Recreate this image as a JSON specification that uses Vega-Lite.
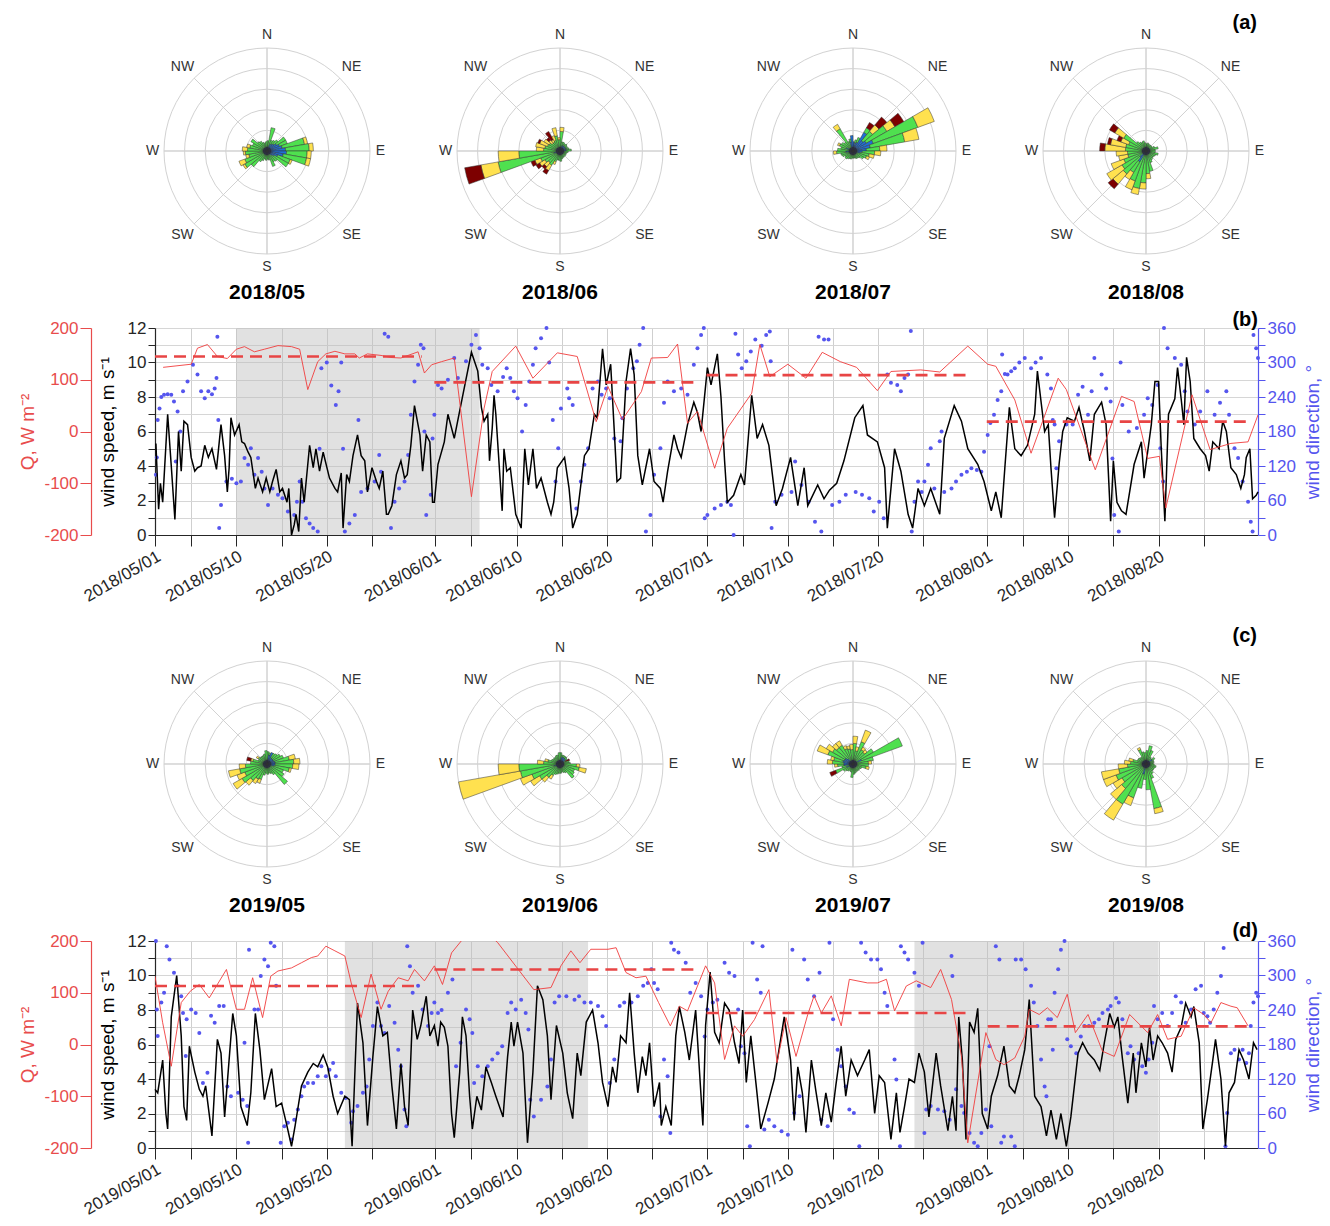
{
"$schema":"https://vega.github.io/schema/vega-lite/v6.json",
"padding":{"left":18,"top":12,"right":2,"bottom":2},
"background":"white",
"config":{"font":"Liberation Sans","view":{"stroke":null},
"axis":{"labelFont":"Liberation Sans","titleFont":"Liberation Sans","labelFontSize":17,"titleFontSize":19,"titleFontWeight":"normal","labelColor":"#262626","domainColor":"#262626","tickColor":"#262626","titleColor":"#000000","domainWidth":1.2},
"title":{"font":"Liberation Sans","color":"#000000"}},
"datasets":{
"rings":[{"r":2},{"r":4},{"r":6},{"r":8},{"r":10}],
"spokes":[{"a":0,"r":10},{"a":45,"r":10},{"a":90,"r":10},{"a":135,"r":10},{"a":180,"r":10},{"a":225,"r":10},{"a":270,"r":10},{"a":315,"r":10}],
"compass":[{"a":0,"r":11.3,"t":"N"},{"a":45,"r":11.6,"t":"NE"},{"a":90,"r":11.0,"t":"E"},{"a":135,"r":11.6,"t":"SE"},{"a":180,"r":11.3,"t":"S"},{"a":225,"r":11.6,"t":"SW"},{"a":270,"r":11.1,"t":"W"},{"a":315,"r":11.6,"t":"NW"}],
"rose":[
{"m":"1805","a":5,"c1":0.4,"c3":0.6},{"m":"1805","a":15,"c1":0.4,"c3":1.9},{"m":"1805","a":25,"c1":0.4,"c2":0.3,"c3":0.4},{"m":"1805","a":35,"c1":0.4,"c2":0.4,"c3":0.4},{"m":"1805","a":45,"c1":0.4,"c2":0.5,"c3":0.5},{"m":"1805","a":55,"c1":0.4,"c2":0.7,"c3":1.0},{"m":"1805","a":65,"c1":0.4,"c2":0.9,"c3":0.8},{"m":"1805","a":75,"c1":0.4,"c2":1.1,"c3":2.2,"c4":0.3},{"m":"1805","a":85,"c1":0.4,"c2":1.4,"c3":2.3,"c4":0.4},{"m":"1805","a":95,"c1":0.4,"c2":1.5,"c3":2.0,"c4":0.4},{"m":"1805","a":105,"c1":0.4,"c2":1.2,"c3":2.3,"c4":0.4},{"m":"1805","a":115,"c1":0.4,"c2":0.7,"c3":1.3,"c4":0.2},{"m":"1805","a":125,"c1":0.4,"c2":0.4,"c3":1.6},{"m":"1805","a":135,"c1":0.4,"c2":0.2,"c3":0.7},{"m":"1805","a":145,"c1":0.4,"c3":0.8},{"m":"1805","a":155,"c1":0.4,"c3":1.2},{"m":"1805","a":165,"c1":0.4,"c3":0.5},{"m":"1805","a":175,"c1":0.4,"c3":0.4},{"m":"1805","a":185,"c1":0.4,"c3":0.5},{"m":"1805","a":195,"c1":0.4,"c3":0.4},{"m":"1805","a":205,"c1":0.4,"c3":0.6},{"m":"1805","a":215,"c1":0.4,"c3":0.8},{"m":"1805","a":225,"c1":0.4,"c3":1.6},{"m":"1805","a":235,"c1":0.4,"c3":2.1,"c4":0.2},{"m":"1805","a":245,"c1":0.4,"c3":1.9,"c4":0.6},{"m":"1805","a":255,"c1":0.4,"c3":1.4,"c4":0.3},{"m":"1805","a":265,"c1":0.4,"c3":1.7,"c4":0.2},{"m":"1805","a":275,"c1":0.4,"c3":1.5,"c4":0.5},{"m":"1805","a":285,"c1":0.4,"c3":1.3,"c4":0.3},{"m":"1805","a":295,"c1":0.4,"c3":1.1},{"m":"1805","a":305,"c1":0.4,"c3":1.4},{"m":"1805","a":315,"c1":0.4,"c3":0.8},{"m":"1805","a":325,"c1":0.4,"c3":0.7},{"m":"1805","a":335,"c1":0.4,"c3":0.5},{"m":"1805","a":345,"c1":0.4,"c3":0.4},{"m":"1805","a":355,"c1":0.4,"c3":0.5},
{"m":"1806","a":5,"c1":0.4,"c3":1.5,"c4":0.4},{"m":"1806","a":15,"c1":0.4,"c3":0.5},{"m":"1806","a":25,"c1":0.4,"c2":0.2,"c3":0.3},{"m":"1806","a":35,"c1":0.4,"c2":0.2,"c3":0.2},{"m":"1806","a":45,"c1":0.4,"c2":0.2,"c3":0.3},{"m":"1806","a":55,"c1":0.4,"c2":0.2,"c3":0.2},{"m":"1806","a":65,"c1":0.4,"c2":0.2,"c3":0.2},{"m":"1806","a":75,"c1":0.4,"c2":0.2,"c3":0.3},{"m":"1806","a":85,"c1":0.4,"c2":0.2,"c3":0.5},{"m":"1806","a":95,"c1":0.4,"c3":0.4},{"m":"1806","a":105,"c1":0.4,"c3":0.3},{"m":"1806","a":115,"c1":0.4,"c3":0.2},{"m":"1806","a":125,"c1":0.4,"c3":0.3},{"m":"1806","a":135,"c1":0.4,"c3":0.2},{"m":"1806","a":145,"c1":0.4,"c3":0.3},{"m":"1806","a":155,"c1":0.4,"c3":0.3},{"m":"1806","a":165,"c1":0.4,"c3":0.4},{"m":"1806","a":175,"c1":0.4,"c3":0.6},{"m":"1806","a":185,"c1":0.4,"c3":0.5},{"m":"1806","a":195,"c1":0.4,"c3":0.5},{"m":"1806","a":205,"c1":0.4,"c3":0.7,"c4":0.3},{"m":"1806","a":215,"c1":0.4,"c3":1.2,"c4":0.6,"c5":0.4},{"m":"1806","a":225,"c1":0.4,"c3":1.1,"c4":0.5,"c5":0.3},{"m":"1806","a":235,"c1":0.4,"c3":1.3,"c4":0.6,"c5":0.4},{"m":"1806","a":245,"c1":0.4,"c3":1.6,"c4":0.6,"c5":0.4},{"m":"1806","a":255,"c1":0.4,"c2":0.2,"c3":5.5,"c4":1.7,"c5":1.6},{"m":"1806","a":265,"c1":0.4,"c3":3.6,"c4":2.0},{"m":"1806","a":275,"c1":0.4,"c3":1.2,"c4":0.7},{"m":"1806","a":285,"c1":0.4,"c3":1.1,"c4":0.9},{"m":"1806","a":295,"c1":0.4,"c3":0.9,"c4":0.8,"c5":0.2},{"m":"1806","a":305,"c1":0.4,"c3":0.8,"c4":0.6},{"m":"1806","a":315,"c1":0.4,"c3":0.6,"c4":0.4,"c5":0.3},{"m":"1806","a":325,"c1":0.4,"c3":0.6,"c4":0.3,"c5":0.9},{"m":"1806","a":335,"c1":0.4,"c3":0.7,"c4":0.5},{"m":"1806","a":345,"c1":0.4,"c3":1.1,"c4":0.8},{"m":"1806","a":355,"c1":0.4,"c3":0.7,"c4":0.2},
{"m":"1807","a":5,"c1":0.4,"c2":0.5},{"m":"1807","a":15,"c1":0.4,"c2":0.4,"c3":0.3},{"m":"1807","a":25,"c1":0.4,"c2":0.5,"c3":0.5},{"m":"1807","a":35,"c1":0.4,"c2":1.7,"c3":0.5,"c5":0.6},{"m":"1807","a":45,"c1":0.4,"c2":0.9,"c3":1.2,"c4":0.8,"c5":1.0},{"m":"1807","a":55,"c1":0.4,"c2":1.1,"c3":2.3,"c4":0.9,"c5":1.0},{"m":"1807","a":65,"c1":0.4,"c2":1.7,"c3":4.6,"c4":1.7},{"m":"1807","a":75,"c1":0.4,"c2":1.3,"c3":3.4,"c4":1.4},{"m":"1807","a":85,"c1":0.4,"c2":0.9,"c3":1.3,"c4":0.7},{"m":"1807","a":95,"c1":0.4,"c2":0.5,"c3":1.2,"c4":0.6},{"m":"1807","a":105,"c1":0.4,"c2":0.3,"c3":0.9,"c4":0.5},{"m":"1807","a":115,"c1":0.4,"c3":1.0,"c4":0.3},{"m":"1807","a":125,"c1":0.4,"c3":0.8},{"m":"1807","a":135,"c1":0.4,"c3":0.5},{"m":"1807","a":145,"c1":0.4,"c3":0.4},{"m":"1807","a":155,"c1":0.4,"c3":0.4},{"m":"1807","a":165,"c1":0.4,"c3":0.3},{"m":"1807","a":175,"c1":0.4,"c3":0.3},{"m":"1807","a":185,"c1":0.4,"c3":0.3},{"m":"1807","a":195,"c1":0.4,"c3":0.4},{"m":"1807","a":205,"c1":0.4,"c3":0.4},{"m":"1807","a":215,"c1":0.4,"c3":0.5},{"m":"1807","a":225,"c1":0.4,"c3":0.6},{"m":"1807","a":235,"c1":0.4,"c3":0.5},{"m":"1807","a":245,"c1":0.4,"c3":0.7},{"m":"1807","a":255,"c1":0.4,"c3":0.8},{"m":"1807","a":265,"c1":0.4,"c2":0.3,"c3":0.9,"c4":0.3},{"m":"1807","a":275,"c1":0.4,"c3":1.1},{"m":"1807","a":285,"c1":0.4,"c3":0.8},{"m":"1807","a":295,"c1":0.4,"c2":0.3,"c3":0.7,"c4":0.2},{"m":"1807","a":305,"c1":0.4,"c3":0.9},{"m":"1807","a":315,"c1":0.4,"c3":0.7},{"m":"1807","a":325,"c1":0.4,"c3":2.1,"c4":0.5},{"m":"1807","a":335,"c1":0.4,"c3":0.6},{"m":"1807","a":345,"c1":0.4,"c2":0.5,"c3":0.3},{"m":"1807","a":355,"c1":0.4,"c2":1.1},
{"m":"1808","a":5,"c1":0.4,"c3":0.3},{"m":"1808","a":15,"c1":0.4,"c3":0.4},{"m":"1808","a":25,"c1":0.4,"c3":0.3},{"m":"1808","a":35,"c1":0.4,"c3":0.3},{"m":"1808","a":45,"c1":0.4,"c3":0.3},{"m":"1808","a":55,"c1":0.4,"c3":0.3},{"m":"1808","a":65,"c1":0.4,"c3":0.5},{"m":"1808","a":75,"c1":0.4,"c3":0.8},{"m":"1808","a":85,"c1":0.4,"c3":0.5},{"m":"1808","a":95,"c1":0.4,"c3":0.5},{"m":"1808","a":105,"c1":0.4,"c3":0.8},{"m":"1808","a":115,"c1":0.4,"c3":0.6},{"m":"1808","a":125,"c1":0.4,"c3":0.5},{"m":"1808","a":135,"c1":0.4,"c3":0.5},{"m":"1808","a":145,"c1":0.4,"c3":0.6},{"m":"1808","a":155,"c1":0.4,"c3":0.8},{"m":"1808","a":165,"c1":0.4,"c3":1.6},{"m":"1808","a":175,"c1":0.4,"c3":1.8,"c4":0.5},{"m":"1808","a":185,"c1":0.4,"c3":2.7,"c4":0.6},{"m":"1808","a":195,"c1":0.4,"c3":3.3,"c4":0.6},{"m":"1808","a":205,"c1":0.4,"c3":2.7,"c4":0.9},{"m":"1808","a":215,"c1":0.4,"c2":0.8,"c3":1.2,"c4":0.8},{"m":"1808","a":225,"c1":0.4,"c2":0.4,"c3":2.1,"c4":1.3,"c5":0.6},{"m":"1808","a":235,"c1":0.4,"c3":2.3,"c4":1.7},{"m":"1808","a":245,"c1":0.4,"c3":1.9,"c4":1.3},{"m":"1808","a":255,"c1":0.4,"c3":1.4,"c4":0.9},{"m":"1808","a":265,"c1":0.4,"c3":1.4,"c4":1.1},{"m":"1808","a":275,"c1":0.4,"c3":1.6,"c4":2.0,"c5":0.5},{"m":"1808","a":285,"c1":0.4,"c3":1.6,"c4":1.5,"c5":0.3},{"m":"1808","a":295,"c1":0.4,"c3":1.4,"c4":0.8,"c5":0.4},{"m":"1808","a":305,"c1":0.4,"c3":2.1,"c4":1.0,"c5":0.6},{"m":"1808","a":315,"c1":0.4,"c3":0.8},{"m":"1808","a":325,"c1":0.4,"c3":0.6},{"m":"1808","a":335,"c1":0.4,"c3":0.5},{"m":"1808","a":345,"c1":0.4,"c3":0.6},{"m":"1808","a":355,"c1":0.4,"c3":0.4},
{"m":"1905","a":5,"c1":0.4,"c3":0.8},{"m":"1905","a":15,"c1":0.4,"c2":0.5,"c3":0.2},{"m":"1905","a":25,"c1":0.4,"c2":0.8},{"m":"1905","a":35,"c1":0.4,"c2":0.3,"c3":0.5},{"m":"1905","a":45,"c1":0.4,"c2":0.3,"c3":0.6},{"m":"1905","a":55,"c1":0.4,"c2":0.3,"c3":0.8},{"m":"1905","a":65,"c1":0.4,"c2":0.3,"c3":1.0},{"m":"1905","a":75,"c1":0.4,"c2":0.4,"c3":1.4,"c4":0.6},{"m":"1905","a":85,"c1":0.4,"c2":0.4,"c3":1.8,"c4":0.6},{"m":"1905","a":95,"c1":0.4,"c2":0.4,"c3":1.7,"c4":0.6},{"m":"1905","a":105,"c1":0.4,"c2":0.3,"c3":1.5,"c4":0.2},{"m":"1905","a":115,"c1":0.4,"c3":1.3},{"m":"1905","a":125,"c1":0.4,"c3":1.5},{"m":"1905","a":135,"c1":0.4,"c3":2.2},{"m":"1905","a":145,"c1":0.4,"c3":0.8},{"m":"1905","a":155,"c1":0.4,"c3":0.6},{"m":"1905","a":165,"c1":0.4,"c3":0.5},{"m":"1905","a":175,"c1":0.4,"c3":0.6},{"m":"1905","a":185,"c1":0.4,"c3":0.5},{"m":"1905","a":195,"c1":0.4,"c3":0.7},{"m":"1905","a":205,"c1":0.4,"c3":1.2,"c4":0.4},{"m":"1905","a":215,"c1":0.4,"c3":1.3,"c4":0.5},{"m":"1905","a":225,"c1":0.4,"c3":1.7,"c4":0.6},{"m":"1905","a":235,"c1":0.4,"c3":2.4,"c4":1.0},{"m":"1905","a":245,"c1":0.4,"c3":1.9,"c4":0.8},{"m":"1905","a":255,"c1":0.4,"c3":2.3,"c4":1.1},{"m":"1905","a":265,"c1":0.4,"c3":1.7,"c4":0.6},{"m":"1905","a":275,"c1":0.4,"c3":1.2},{"m":"1905","a":285,"c1":0.4,"c3":1.0,"c4":0.2,"c5":0.4},{"m":"1905","a":295,"c1":0.4,"c3":0.5},{"m":"1905","a":305,"c1":0.4,"c3":0.6,"c4":0.2},{"m":"1905","a":315,"c1":0.4,"c3":0.5},{"m":"1905","a":325,"c1":0.4,"c3":0.5},{"m":"1905","a":335,"c1":0.4,"c3":0.5},{"m":"1905","a":345,"c1":0.4,"c3":0.6},{"m":"1905","a":355,"c1":0.4,"c3":0.9},
{"m":"1906","a":5,"c1":0.4,"c3":0.7},{"m":"1906","a":15,"c1":0.4,"c2":0.3,"c3":0.2},{"m":"1906","a":25,"c1":0.4,"c2":0.3,"c3":0.2},{"m":"1906","a":35,"c1":0.4,"c2":0.3,"c3":0.2},{"m":"1906","a":45,"c1":0.4,"c2":0.3,"c3":0.2},{"m":"1906","a":55,"c1":0.4,"c2":0.2,"c3":0.2},{"m":"1906","a":65,"c1":0.4,"c3":0.2,"c5":0.4},{"m":"1906","a":75,"c1":0.4,"c3":0.5},{"m":"1906","a":85,"c1":0.4,"c3":0.6},{"m":"1906","a":95,"c1":0.4,"c3":1.2,"c4":0.3},{"m":"1906","a":105,"c1":0.4,"c3":1.5,"c4":0.7},{"m":"1906","a":115,"c1":0.4,"c3":1.1},{"m":"1906","a":125,"c1":0.4,"c3":1.2},{"m":"1906","a":135,"c1":0.4,"c3":1.4},{"m":"1906","a":145,"c1":0.4,"c3":0.6},{"m":"1906","a":155,"c1":0.4,"c3":0.5},{"m":"1906","a":165,"c1":0.4,"c3":0.4},{"m":"1906","a":175,"c1":0.4,"c3":0.5},{"m":"1906","a":185,"c1":0.4,"c3":0.5},{"m":"1906","a":195,"c1":0.4,"c3":0.6},{"m":"1906","a":205,"c1":0.4,"c3":0.7},{"m":"1906","a":215,"c1":0.4,"c3":0.9,"c4":0.4},{"m":"1906","a":225,"c1":0.4,"c3":1.3,"c4":0.6},{"m":"1906","a":235,"c1":0.4,"c3":1.9,"c4":1.0},{"m":"1906","a":245,"c1":0.4,"c3":2.5,"c4":1.2},{"m":"1906","a":255,"c1":0.4,"c2":0.2,"c3":3.3,"c4":6.1},{"m":"1906","a":265,"c1":0.4,"c3":3.6,"c4":2.0},{"m":"1906","a":275,"c1":0.4,"c3":1.2,"c4":0.6},{"m":"1906","a":285,"c1":0.4,"c3":0.8,"c4":0.3},{"m":"1906","a":295,"c1":0.4,"c3":0.5},{"m":"1906","a":305,"c1":0.4,"c3":0.4},{"m":"1906","a":315,"c1":0.4,"c3":0.4},{"m":"1906","a":325,"c1":0.4,"c3":0.4},{"m":"1906","a":335,"c1":0.4,"c3":0.5},{"m":"1906","a":345,"c1":0.4,"c3":0.5},{"m":"1906","a":355,"c1":0.4,"c3":0.7},
{"m":"1907","a":5,"c1":0.4,"c3":1.6,"c4":0.7},{"m":"1907","a":15,"c1":0.4,"c3":0.9,"c4":0.4},{"m":"1907","a":25,"c1":0.4,"c3":1.9,"c4":1.2},{"m":"1907","a":35,"c1":0.4,"c3":1.2,"c4":0.3},{"m":"1907","a":45,"c1":0.4,"c3":1.1,"c4":0.3},{"m":"1907","a":55,"c1":0.4,"c3":1.9},{"m":"1907","a":65,"c1":0.4,"c2":0.5,"c3":4.2},{"m":"1907","a":75,"c1":0.4,"c3":1.6},{"m":"1907","a":85,"c1":0.4,"c3":1.1,"c4":0.3},{"m":"1907","a":95,"c1":0.4,"c3":1.1},{"m":"1907","a":105,"c1":0.4,"c3":0.9,"c4":0.3},{"m":"1907","a":115,"c1":0.4,"c3":0.5},{"m":"1907","a":125,"c1":0.4,"c3":0.4},{"m":"1907","a":135,"c1":0.4,"c3":0.4},{"m":"1907","a":145,"c1":0.4,"c3":0.4},{"m":"1907","a":155,"c1":0.4,"c3":0.4},{"m":"1907","a":165,"c1":0.4,"c3":0.5},{"m":"1907","a":175,"c1":0.4,"c3":0.6},{"m":"1907","a":185,"c1":0.4,"c3":0.9},{"m":"1907","a":195,"c1":0.4,"c3":0.4},{"m":"1907","a":205,"c1":0.4,"c3":0.3},{"m":"1907","a":215,"c1":0.4,"c3":0.4},{"m":"1907","a":225,"c1":0.4,"c3":0.5},{"m":"1907","a":235,"c1":0.4,"c3":0.7},{"m":"1907","a":245,"c1":0.4,"c2":0.3,"c3":1.1,"c5":0.6},{"m":"1907","a":255,"c1":0.4,"c3":0.7},{"m":"1907","a":265,"c1":0.4,"c2":0.5,"c3":0.6,"c4":0.3},{"m":"1907","a":275,"c1":0.4,"c2":0.5,"c3":1.1,"c4":0.5},{"m":"1907","a":285,"c1":0.4,"c2":0.6,"c3":0.9,"c4":0.3},{"m":"1907","a":295,"c1":0.4,"c2":0.5,"c3":1.7,"c4":1.1},{"m":"1907","a":305,"c1":0.4,"c2":0.5,"c3":1.4,"c4":0.7},{"m":"1907","a":315,"c1":0.4,"c2":0.3,"c3":1.4,"c4":0.5},{"m":"1907","a":325,"c1":0.4,"c3":1.7,"c4":0.5},{"m":"1907","a":335,"c1":0.4,"c3":1.2,"c4":0.3},{"m":"1907","a":345,"c1":0.4,"c3":1.1,"c4":0.3},{"m":"1907","a":355,"c1":0.4,"c3":1.0,"c4":0.5},
{"m":"1908","a":5,"c1":0.4,"c3":0.9},{"m":"1908","a":15,"c1":0.4,"c3":1.4},{"m":"1908","a":25,"c1":0.4,"c3":1.0},{"m":"1908","a":35,"c1":0.4,"c3":0.4},{"m":"1908","a":45,"c1":0.4,"c3":0.3},{"m":"1908","a":55,"c1":0.4,"c2":0.3,"c3":0.3},{"m":"1908","a":65,"c1":0.4,"c3":0.4},{"m":"1908","a":75,"c1":0.4,"c3":0.4},{"m":"1908","a":85,"c1":0.4,"c3":0.3},{"m":"1908","a":95,"c1":0.4,"c3":0.4},{"m":"1908","a":105,"c1":0.4,"c3":0.6},{"m":"1908","a":115,"c1":0.4,"c3":0.5},{"m":"1908","a":125,"c1":0.4,"c3":0.5},{"m":"1908","a":135,"c1":0.4,"c3":0.5},{"m":"1908","a":145,"c1":0.4,"c3":0.7},{"m":"1908","a":155,"c1":0.4,"c3":1.1},{"m":"1908","a":165,"c1":0.4,"c3":4.0,"c4":0.5},{"m":"1908","a":175,"c1":0.4,"c3":2.1},{"m":"1908","a":185,"c1":0.4,"c3":1.1},{"m":"1908","a":195,"c1":0.4,"c2":0.6,"c3":1.4},{"m":"1908","a":205,"c1":0.4,"c3":3.1,"c4":0.8},{"m":"1908","a":215,"c1":0.4,"c3":4.1,"c4":1.8},{"m":"1908","a":225,"c1":0.4,"c3":2.7,"c4":1.4},{"m":"1908","a":235,"c1":0.4,"c3":2.3,"c4":1.0},{"m":"1908","a":245,"c1":0.4,"c3":2.7,"c4":1.3},{"m":"1908","a":255,"c1":0.4,"c3":2.3,"c4":1.7},{"m":"1908","a":265,"c1":0.4,"c3":1.4,"c4":0.9},{"m":"1908","a":275,"c1":0.4,"c3":1.1,"c4":0.6},{"m":"1908","a":285,"c1":0.4,"c3":0.9,"c4":0.4},{"m":"1908","a":295,"c1":0.4,"c3":0.5},{"m":"1908","a":305,"c1":0.4,"c3":0.5},{"m":"1908","a":315,"c1":0.4,"c3":0.4},{"m":"1908","a":325,"c1":0.4,"c3":0.4},{"m":"1908","a":335,"c1":0.4,"c3":1.1,"c4":0.2},{"m":"1908","a":345,"c1":0.4,"c3":0.8},{"m":"1908","a":355,"c1":0.4,"c3":0.7}
],
"g18":[{"x0":9,"x1":35.9}],
"m18":[{"x0":0,"x1":29.5,"q":145},{"x0":30.9,"x1":60,"q":95},{"x0":61,"x1":90,"q":109},{"x0":92,"x1":120.7,"q":19}],
"s18":[{"t":0.1,"s":5.3},{"t":0.4,"s":1.5},{"t":0.6,"s":3.0},{"t":0.85,"s":1.9},{"t":1.4,"s":7.0},{"t":1.8,"s":4.0},{"t":2.2,"s":0.9},{"t":2.6,"s":6.0},{"t":2.9,"s":3.7},{"t":3.2,"s":6.6},{"t":3.6,"s":6.4},{"t":4.0,"s":4.5},{"t":4.4,"s":3.7},{"t":4.7,"s":3.9},{"t":5.1,"s":4.0},{"t":5.5,"s":5.2},{"t":5.9,"s":4.5},{"t":6.3,"s":5.0},{"t":6.8,"s":3.8},{"t":7.3,"s":6.4},{"t":7.7,"s":4.6},{"t":8.0,"s":2.5},{"t":8.2,"s":3.9},{"t":8.4,"s":6.8},{"t":8.8,"s":5.8},{"t":9.3,"s":6.4},{"t":9.6,"s":5.4},{"t":9.9,"s":5.3},{"t":10.3,"s":4.8},{"t":10.6,"s":4.5},{"t":11.1,"s":2.7},{"t":11.4,"s":3.3},{"t":11.9,"s":2.5},{"t":12.3,"s":3.3},{"t":12.7,"s":2.5},{"t":13.0,"s":3.1},{"t":13.4,"s":3.8},{"t":13.8,"s":2.5},{"t":14.1,"s":2.7},{"t":14.6,"s":1.9},{"t":14.8,"s":2.7},{"t":15.1,"s":0.0},{"t":15.4,"s":0.6},{"t":15.6,"s":1.2},{"t":15.9,"s":0.2},{"t":16.2,"s":3.3},{"t":16.5,"s":1.9},{"t":17.1,"s":5.2},{"t":17.5,"s":3.9},{"t":17.8,"s":5.0},{"t":18.2,"s":3.7},{"t":18.6,"s":4.8},{"t":19.3,"s":3.3},{"t":19.9,"s":2.7},{"t":20.2,"s":2.5},{"t":20.6,"s":3.6},{"t":20.8,"s":0.4},{"t":21.2,"s":3.5},{"t":21.5,"s":3.1},{"t":21.9,"s":4.6},{"t":22.4,"s":5.8},{"t":22.8,"s":4.6},{"t":23.2,"s":4.3},{"t":23.5,"s":2.5},{"t":24.0,"s":3.9},{"t":24.5,"s":3.1},{"t":24.8,"s":2.7},{"t":25.2,"s":3.7},{"t":25.6,"s":1.2},{"t":25.8,"s":1.2},{"t":26.2,"s":1.7},{"t":26.7,"s":3.5},{"t":27.2,"s":4.3},{"t":27.6,"s":3.3},{"t":27.9,"s":3.5},{"t":28.3,"s":5.2},{"t":28.7,"s":7.5},{"t":29.3,"s":5.8},{"t":29.6,"s":3.7},{"t":30.0,"s":5.8},{"t":30.4,"s":5.4},{"t":30.7,"s":1.9},{"t":30.9,"s":1.9},{"t":31.3,"s":4.1},{"t":32.0,"s":5.4},{"t":32.4,"s":7.0},{"t":33.1,"s":5.6},{"t":33.7,"s":7.2},{"t":35.0,"s":10.6},{"t":35.7,"s":9.5},{"t":36.1,"s":7.4},{"t":36.4,"s":6.6},{"t":36.8,"s":7.0},{"t":37.0,"s":4.3},{"t":37.3,"s":6.2},{"t":37.5,"s":8.1},{"t":37.7,"s":7.0},{"t":38.4,"s":1.4},{"t":38.6,"s":5.0},{"t":38.9,"s":3.7},{"t":39.3,"s":3.9},{"t":39.9,"s":1.2},{"t":40.5,"s":0.4},{"t":40.9,"s":5.0},{"t":41.3,"s":2.9},{"t":41.8,"s":5.0},{"t":42.2,"s":2.7},{"t":42.7,"s":3.3},{"t":43.4,"s":1.9},{"t":43.8,"s":1.2},{"t":44.1,"s":1.9},{"t":44.5,"s":3.9},{"t":45.3,"s":4.5},{"t":45.8,"s":2.7},{"t":46.2,"s":0.4},{"t":46.7,"s":1.2},{"t":47.5,"s":4.6},{"t":48.0,"s":5.0},{"t":48.6,"s":7.0},{"t":48.9,"s":6.8},{"t":49.5,"s":10.8},{"t":49.9,"s":8.7},{"t":50.4,"s":9.9},{"t":51.1,"s":3.1},{"t":51.5,"s":3.3},{"t":52.1,"s":8.9},{"t":52.6,"s":10.8},{"t":53.0,"s":9.3},{"t":53.4,"s":4.6},{"t":53.9,"s":2.9},{"t":54.7,"s":5.0},{"t":55.2,"s":3.1},{"t":55.9,"s":2.7},{"t":56.2,"s":1.9},{"t":56.7,"s":3.7},{"t":57.4,"s":5.8},{"t":57.8,"s":5.0},{"t":58.2,"s":4.5},{"t":58.9,"s":6.4},{"t":59.6,"s":7.7},{"t":60.0,"s":7.1},{"t":60.4,"s":6.0},{"t":61.1,"s":9.7},{"t":61.5,"s":8.7},{"t":62.2,"s":10.5},{"t":62.6,"s":8.0},{"t":63.0,"s":4.3},{"t":63.3,"s":1.9},{"t":64.0,"s":2.3},{"t":64.8,"s":3.5},{"t":65.2,"s":2.9},{"t":66.0,"s":8.1},{"t":66.6,"s":5.6},{"t":67.2,"s":6.4},{"t":67.9,"s":5.2},{"t":68.7,"s":1.7},{"t":69.4,"s":2.7},{"t":70.3,"s":4.5},{"t":71.1,"s":1.7},{"t":71.8,"s":3.9},{"t":72.2,"s":1.7},{"t":73.3,"s":2.9},{"t":74.0,"s":2.1},{"t":74.6,"s":2.6},{"t":75.4,"s":3.0},{"t":76.2,"s":4.3},{"t":77.4,"s":6.8},{"t":78.3,"s":7.5},{"t":78.8,"s":5.8},{"t":79.9,"s":5.4},{"t":80.7,"s":3.9},{"t":81.0,"s":0.4},{"t":81.8,"s":5.0},{"t":82.5,"s":3.7},{"t":83.3,"s":1.2},{"t":83.8,"s":0.4},{"t":84.4,"s":2.7},{"t":85.1,"s":1.7},{"t":85.8,"s":2.7},{"t":86.8,"s":1.2},{"t":87.3,"s":5.6},{"t":88.4,"s":7.5},{"t":89.2,"s":6.6},{"t":89.9,"s":5.0},{"t":91.0,"s":4.1},{"t":91.7,"s":3.1},{"t":92.5,"s":1.4},{"t":93.0,"s":2.5},{"t":93.6,"s":1.0},{"t":94.0,"s":3.9},{"t":94.5,"s":7.4},{"t":95.1,"s":5.0},{"t":95.8,"s":4.6},{"t":96.5,"s":5.2},{"t":97.3,"s":7.0},{"t":97.6,"s":9.5},{"t":98.4,"s":6.0},{"t":98.8,"s":6.4},{"t":99.1,"s":3.9},{"t":99.5,"s":1.0},{"t":100.0,"s":4.1},{"t":100.4,"s":6.0},{"t":100.9,"s":6.8},{"t":101.7,"s":6.6},{"t":102.2,"s":7.4},{"t":102.8,"s":6.0},{"t":103.4,"s":4.3},{"t":103.9,"s":7.0},{"t":104.7,"s":7.7},{"t":105.2,"s":6.4},{"t":105.7,"s":0.8},{"t":106.0,"s":4.3},{"t":106.4,"s":1.9},{"t":106.9,"s":1.4},{"t":107.4,"s":1.2},{"t":108.3,"s":4.1},{"t":109.1,"s":5.4},{"t":109.4,"s":3.3},{"t":110.2,"s":6.4},{"t":110.6,"s":8.9},{"t":111.0,"s":8.9},{"t":111.3,"s":5.0},{"t":111.7,"s":0.8},{"t":112.1,"s":7.0},{"t":112.8,"s":7.9},{"t":113.1,"s":9.7},{"t":113.5,"s":7.9},{"t":113.8,"s":6.4},{"t":114.1,"s":10.3},{"t":114.5,"s":8.9},{"t":114.9,"s":5.6},{"t":115.6,"s":5.0},{"t":116.2,"s":4.6},{"t":116.6,"s":3.7},{"t":117.0,"s":5.4},{"t":117.7,"s":5.0},{"t":118.1,"s":6.6},{"t":118.5,"s":6.0},{"t":119.0,"s":3.9},{"t":119.6,"s":3.5},{"t":120.1,"s":2.7},{"t":120.5,"s":3.5},{"t":120.7,"s":4.5},{"t":121.1,"s":5.0},{"t":121.4,"s":2.1},{"t":121.8,"s":2.3},{"t":122.0,"s":2.5}],
"d18":[{"t":0.1,"d":105},{"t":0.2,"d":135},{"t":0.3,"d":200},{"t":0.5,"d":220},{"t":0.7,"d":240},{"t":1.0,"d":244},{"t":1.4,"d":245},{"t":1.8,"d":244},{"t":2.1,"d":232},{"t":2.3,"d":128},{"t":2.5,"d":215},{"t":2.8,"d":180},{"t":3.1,"d":250},{"t":3.6,"d":267},{"t":4.2,"d":296},{"t":4.7,"d":279},{"t":5.1,"d":250},{"t":5.5,"d":238},{"t":5.9,"d":250},{"t":6.3,"d":245},{"t":6.6,"d":255},{"t":6.8,"d":273},{"t":6.9,"d":345},{"t":7.0,"d":200},{"t":7.1,"d":12},{"t":7.3,"d":52},{"t":7.9,"d":93},{"t":8.5,"d":98},{"t":9.0,"d":90},{"t":9.5,"d":93},{"t":9.9,"d":134},{"t":10.3,"d":122},{"t":10.6,"d":151},{"t":11.0,"d":105},{"t":11.4,"d":134},{"t":11.8,"d":110},{"t":12.1,"d":81},{"t":12.5,"d":52},{"t":13.0,"d":81},{"t":13.6,"d":70},{"t":14.1,"d":64},{"t":14.7,"d":41},{"t":15.4,"d":35},{"t":15.7,"d":58},{"t":16.0,"d":93},{"t":16.3,"d":58},{"t":16.7,"d":29},{"t":17.1,"d":20},{"t":17.5,"d":12},{"t":18.0,"d":6},{"t":18.2,"d":150},{"t":18.4,"d":290},{"t":19.0,"d":300},{"t":19.5,"d":260},{"t":20.0,"d":226},{"t":20.3,"d":250},{"t":20.6,"d":300},{"t":20.8,"d":150},{"t":21.0,"d":6},{"t":21.5,"d":20},{"t":22.1,"d":35},{"t":22.5,"d":200},{"t":22.8,"d":75},{"t":23.5,"d":81},{"t":24.3,"d":93},{"t":24.8,"d":139},{"t":25.0,"d":110},{"t":25.4,"d":350},{"t":25.8,"d":345},{"t":26.1,"d":12},{"t":26.5,"d":58},{"t":27.0,"d":81},{"t":27.6,"d":93},{"t":28.0,"d":139},{"t":28.3,"d":209},{"t":28.7,"d":267},{"t":29.1,"d":296},{"t":29.4,"d":331},{"t":29.7,"d":325},{"t":29.8,"d":180},{"t":30.0,"d":35},{"t":30.5,"d":70},{"t":30.7,"d":168},{"t":30.9,"d":209},{"t":31.3,"d":261},{"t":31.7,"d":255},{"t":32.4,"d":270},{"t":33.1,"d":308},{"t":33.5,"d":273},{"t":34.4,"d":302},{"t":35.0,"d":331},{"t":35.5,"d":348},{"t":35.9,"d":325},{"t":36.2,"d":296},{"t":36.8,"d":290},{"t":37.2,"d":261},{"t":37.9,"d":250},{"t":38.5,"d":275},{"t":38.9,"d":290},{"t":39.3,"d":273},{"t":39.7,"d":250},{"t":40.1,"d":238},{"t":40.6,"d":180},{"t":41.0,"d":226},{"t":41.4,"d":267},{"t":41.8,"d":296},{"t":42.1,"d":325},{"t":42.7,"d":342},{"t":43.3,"d":360},{"t":43.6,"d":300},{"t":44.0,"d":200},{"t":44.3,"d":93},{"t":44.6,"d":151},{"t":44.9,"d":220},{"t":45.6,"d":255},{"t":45.8,"d":238},{"t":46.2,"d":226},{"t":46.6,"d":46},{"t":47.1,"d":93},{"t":47.5,"d":122},{"t":47.9,"d":151},{"t":48.4,"d":255},{"t":49.0,"d":267},{"t":49.4,"d":244},{"t":49.9,"d":255},{"t":50.3,"d":238},{"t":50.8,"d":168},{"t":51.5,"d":163},{"t":51.7,"d":203},{"t":52.2,"d":255},{"t":52.9,"d":290},{"t":53.3,"d":302},{"t":53.6,"d":331},{"t":54.0,"d":360},{"t":54.3,"d":6},{"t":54.8,"d":35},{"t":55.2,"d":105},{"t":55.9,"d":151},{"t":56.3,"d":230},{"t":56.7,"d":267},{"t":57.4,"d":250},{"t":58.2,"d":255},{"t":58.9,"d":244},{"t":59.6,"d":296},{"t":60.0,"d":325},{"t":60.4,"d":348},{"t":60.7,"d":360},{"t":60.8,"d":29},{"t":61.1,"d":35},{"t":61.9,"d":46},{"t":62.6,"d":52},{"t":63.3,"d":58},{"t":63.7,"d":52},{"t":64.0,"d":0},{"t":64.2,"d":350},{"t":64.5,"d":314},{"t":64.9,"d":290},{"t":65.4,"d":302},{"t":65.9,"d":319},{"t":66.4,"d":340},{"t":67.1,"d":329},{"t":67.6,"d":348},{"t":68.0,"d":354},{"t":68.1,"d":302},{"t":68.2,"d":12},{"t":68.6,"d":58},{"t":69.3,"d":70},{"t":70.4,"d":75},{"t":70.8,"d":128},{"t":71.5,"d":87},{"t":72.3,"d":58},{"t":73.0,"d":23},{"t":73.4,"d":345},{"t":73.7,"d":6},{"t":74.0,"d":340},{"t":74.5,"d":340},{"t":74.9,"d":52},{"t":75.7,"d":58},{"t":76.4,"d":70},{"t":77.5,"d":75},{"t":78.2,"d":70},{"t":79.0,"d":64},{"t":79.5,"d":41},{"t":80.1,"d":58},{"t":80.6,"d":29},{"t":81.0,"d":279},{"t":81.4,"d":265},{"t":82.1,"d":261},{"t":82.5,"d":250},{"t":82.9,"d":273},{"t":83.3,"d":279},{"t":83.6,"d":355},{"t":83.7,"d":6},{"t":84.0,"d":58},{"t":84.4,"d":93},{"t":84.8,"d":75},{"t":85.1,"d":93},{"t":85.5,"d":122},{"t":85.8,"d":151},{"t":86.2,"d":81},{"t":86.8,"d":163},{"t":87.0,"d":180},{"t":87.3,"d":75},{"t":88.1,"d":81},{"t":88.6,"d":93},{"t":89.2,"d":105},{"t":89.8,"d":110},{"t":90.3,"d":116},{"t":90.9,"d":113},{"t":91.4,"d":110},{"t":91.7,"d":145},{"t":92.1,"d":174},{"t":92.4,"d":195},{"t":92.8,"d":209},{"t":93.2,"d":235},{"t":93.6,"d":250},{"t":93.7,"d":314},{"t":94.0,"d":280},{"t":94.3,"d":279},{"t":94.7,"d":285},{"t":95.1,"d":290},{"t":95.6,"d":300},{"t":96.2,"d":308},{"t":96.9,"d":290},{"t":97.4,"d":300},{"t":98.0,"d":308},{"t":98.7,"d":279},{"t":99.1,"d":255},{"t":99.3,"d":200},{"t":99.5,"d":192},{"t":99.7,"d":116},{"t":100.0,"d":163},{"t":100.8,"d":192},{"t":101.5,"d":192},{"t":102.1,"d":244},{"t":102.6,"d":258},{"t":103.2,"d":209},{"t":103.6,"d":250},{"t":103.9,"d":308},{"t":104.7,"d":279},{"t":105.2,"d":255},{"t":105.7,"d":232},{"t":105.9,"d":133},{"t":106.1,"d":35},{"t":106.6,"d":6},{"t":106.8,"d":300},{"t":107.0,"d":226},{"t":107.7,"d":180},{"t":108.6,"d":186},{"t":109.4,"d":209},{"t":109.8,"d":238},{"t":110.3,"d":226},{"t":110.9,"d":261},{"t":111.2,"d":151},{"t":111.5,"d":93},{"t":111.6,"d":360},{"t":112.0,"d":325},{"t":112.8,"d":308},{"t":113.5,"d":296},{"t":113.9,"d":250},{"t":114.2,"d":215},{"t":115.0,"d":192},{"t":115.6,"d":215},{"t":116.4,"d":250},{"t":117.2,"d":209},{"t":117.8,"d":230},{"t":118.5,"d":250},{"t":118.8,"d":209},{"t":119.4,"d":151},{"t":119.8,"d":134},{"t":120.3,"d":93},{"t":120.9,"d":58},{"t":121.2,"d":23},{"t":121.4,"d":6},{"t":121.5,"d":348},{"t":121.8,"d":325},{"t":122.0,"d":308}],
"q18":[{"t":0.9,"q":124},{"t":4.0,"q":130},{"t":4.7,"q":161},{"t":5.8,"q":168},{"t":6.9,"q":145},{"t":8.0,"q":141},{"t":9.0,"q":159},{"t":9.9,"q":164},{"t":11.0,"q":154},{"t":12.1,"q":159},{"t":13.6,"q":166},{"t":15.1,"q":164},{"t":16.0,"q":159},{"t":16.9,"q":81},{"t":18.0,"q":135},{"t":18.9,"q":150},{"t":19.9,"q":155},{"t":21.0,"q":150},{"t":22.1,"q":150},{"t":22.6,"q":142},{"t":23.5,"q":150},{"t":25.0,"q":147},{"t":26.1,"q":143},{"t":27.2,"q":142},{"t":29.1,"q":154},{"t":29.8,"q":113},{"t":30.6,"q":129},{"t":31.7,"q":135},{"t":33.1,"q":142},{"t":35.0,"q":-126},{"t":36.4,"q":45},{"t":37.3,"q":116},{"t":39.9,"q":165},{"t":41.8,"q":103},{"t":44.5,"q":152},{"t":46.7,"q":145},{"t":48.8,"q":19},{"t":50.1,"q":87},{"t":51.7,"q":23},{"t":53.8,"q":77},{"t":54.9,"q":142},{"t":56.7,"q":143},{"t":57.8,"q":169},{"t":58.9,"q":16},{"t":60.0,"q":39},{"t":61.9,"q":-71},{"t":63.3,"q":6},{"t":66.0,"q":74},{"t":66.9,"q":168},{"t":68.0,"q":106},{"t":70.0,"q":130},{"t":72.0,"q":103},{"t":73.8,"q":153},{"t":75.8,"q":135},{"t":77.6,"q":124},{"t":79.9,"q":79},{"t":81.4,"q":116},{"t":82.5,"q":117},{"t":84.7,"q":119},{"t":86.8,"q":115},{"t":89.9,"q":165},{"t":92.1,"q":130},{"t":93.0,"q":126},{"t":95.1,"q":61},{"t":96.9,"q":-42},{"t":99.9,"q":103},{"t":100.8,"q":81},{"t":104.0,"q":-74},{"t":106.9,"q":68},{"t":108.3,"q":58},{"t":109.8,"q":-52},{"t":111.1,"q":-48},{"t":111.8,"q":-148},{"t":114.7,"q":71},{"t":116.7,"q":-35},{"t":119.0,"q":-23},{"t":120.9,"q":-20},{"t":122.0,"q":32}],
"g19":[{"x0":21.0,"x1":47.9},{"x0":84.0,"x1":111.0}],
"m19":[{"x0":0,"x1":29.2,"q":113},{"x0":30.9,"x1":59.8,"q":145},{"x0":61,"x1":90.1,"q":61},{"x0":92.1,"x1":120.9,"q":35}],
"s19":[{"t":0.0,"s":3.4},{"t":0.3,"s":3.2},{"t":0.85,"s":5.1},{"t":1.2,"s":2.0},{"t":1.4,"s":1.1},{"t":1.8,"s":7.6},{"t":2.4,"s":10.0},{"t":2.9,"s":6.5},{"t":3.2,"s":2.4},{"t":3.5,"s":1.6},{"t":3.8,"s":5.9},{"t":4.4,"s":4.4},{"t":4.9,"s":3.4},{"t":5.3,"s":3.0},{"t":5.6,"s":3.6},{"t":6.3,"s":0.7},{"t":6.9,"s":6.3},{"t":7.3,"s":5.5},{"t":7.7,"s":1.8},{"t":8.6,"s":7.8},{"t":9.0,"s":6.5},{"t":9.5,"s":2.4},{"t":10.2,"s":1.3},{"t":10.6,"s":3.2},{"t":11.1,"s":7.8},{"t":11.6,"s":5.7},{"t":12.1,"s":2.8},{"t":12.9,"s":4.6},{"t":13.4,"s":2.4},{"t":14.0,"s":2.6},{"t":14.5,"s":1.5},{"t":15.1,"s":0.1},{"t":15.5,"s":1.3},{"t":16.2,"s":3.6},{"t":16.9,"s":4.4},{"t":17.5,"s":4.9},{"t":18.0,"s":4.7},{"t":18.6,"s":5.4},{"t":19.1,"s":4.7},{"t":19.7,"s":3.0},{"t":20.2,"s":2.0},{"t":21.0,"s":3.0},{"t":21.5,"s":2.8},{"t":21.8,"s":0.1},{"t":22.4,"s":8.4},{"t":23.0,"s":6.1},{"t":23.5,"s":1.3},{"t":24.1,"s":5.3},{"t":24.6,"s":8.2},{"t":25.2,"s":6.5},{"t":25.7,"s":6.7},{"t":26.2,"s":3.6},{"t":26.7,"s":1.1},{"t":27.2,"s":4.9},{"t":27.6,"s":2.4},{"t":28.0,"s":1.3},{"t":28.5,"s":8.0},{"t":29.0,"s":6.3},{"t":29.4,"s":7.1},{"t":30.0,"s":8.8},{"t":30.4,"s":6.5},{"t":30.9,"s":7.1},{"t":31.3,"s":5.9},{"t":31.6,"s":7.3},{"t":32.0,"s":7.0},{"t":32.4,"s":5.9},{"t":32.8,"s":2.0},{"t":33.1,"s":0.6},{"t":33.7,"s":4.4},{"t":34.0,"s":7.6},{"t":34.4,"s":6.5},{"t":34.8,"s":3.0},{"t":35.1,"s":1.1},{"t":35.6,"s":3.0},{"t":36.1,"s":2.2},{"t":36.6,"s":4.7},{"t":37.2,"s":3.8},{"t":37.7,"s":3.0},{"t":38.5,"s":1.8},{"t":39.0,"s":5.3},{"t":39.4,"s":7.3},{"t":39.7,"s":5.9},{"t":40.1,"s":7.3},{"t":40.7,"s":5.5},{"t":41.2,"s":0.3},{"t":41.8,"s":4.4},{"t":42.3,"s":9.4},{"t":42.9,"s":8.6},{"t":43.4,"s":6.5},{"t":43.8,"s":2.8},{"t":44.4,"s":7.1},{"t":45.1,"s":5.5},{"t":45.6,"s":3.2},{"t":46.2,"s":1.7},{"t":46.7,"s":5.5},{"t":47.1,"s":4.2},{"t":47.7,"s":7.3},{"t":48.4,"s":8.0},{"t":49.0,"s":6.1},{"t":49.5,"s":3.8},{"t":50.1,"s":2.4},{"t":50.6,"s":4.7},{"t":51.0,"s":3.8},{"t":51.5,"s":6.5},{"t":52.1,"s":6.1},{"t":52.5,"s":9.0},{"t":53.0,"s":5.5},{"t":53.4,"s":3.2},{"t":53.9,"s":5.3},{"t":54.3,"s":4.2},{"t":54.7,"s":6.1},{"t":55.2,"s":2.4},{"t":55.8,"s":3.8},{"t":56.0,"s":1.3},{"t":56.5,"s":2.4},{"t":57.1,"s":1.3},{"t":57.6,"s":6.5},{"t":58.0,"s":8.2},{"t":58.6,"s":6.7},{"t":59.1,"s":5.1},{"t":59.8,"s":8.0},{"t":60.6,"s":1.3},{"t":60.9,"s":7.1},{"t":61.4,"s":10.2},{"t":61.9,"s":6.7},{"t":62.4,"s":6.1},{"t":63.0,"s":8.4},{"t":63.5,"s":8.0},{"t":64.1,"s":6.1},{"t":64.6,"s":4.9},{"t":65.0,"s":8.0},{"t":65.4,"s":3.8},{"t":65.9,"s":6.5},{"t":66.5,"s":3.6},{"t":67.0,"s":1.1},{"t":67.8,"s":2.6},{"t":68.5,"s":4.0},{"t":69.6,"s":7.6},{"t":70.3,"s":5.1},{"t":70.7,"s":1.6},{"t":71.1,"s":4.7},{"t":71.6,"s":3.2},{"t":72.0,"s":0.9},{"t":72.6,"s":5.1},{"t":73.1,"s":3.3},{"t":73.7,"s":1.3},{"t":74.2,"s":3.2},{"t":74.8,"s":1.5},{"t":75.3,"s":3.6},{"t":75.9,"s":5.9},{"t":76.4,"s":3.0},{"t":77.0,"s":5.1},{"t":77.7,"s":4.2},{"t":78.5,"s":5.1},{"t":79.0,"s":5.7},{"t":79.6,"s":2.0},{"t":80.1,"s":4.2},{"t":80.7,"s":3.8},{"t":81.4,"s":0.5},{"t":82.0,"s":3.2},{"t":82.4,"s":0.9},{"t":82.9,"s":2.4},{"t":83.4,"s":4.0},{"t":84.0,"s":3.8},{"t":84.5,"s":5.5},{"t":85.1,"s":4.4},{"t":85.6,"s":1.8},{"t":86.4,"s":5.5},{"t":86.9,"s":3.6},{"t":87.7,"s":1.0},{"t":88.2,"s":3.0},{"t":88.6,"s":1.0},{"t":88.9,"s":7.6},{"t":89.3,"s":5.1},{"t":89.7,"s":0.5},{"t":90.1,"s":7.3},{"t":90.6,"s":6.7},{"t":91.0,"s":8.1},{"t":91.5,"s":2.0},{"t":92.1,"s":1.1},{"t":92.5,"s":3.0},{"t":93.2,"s":4.2},{"t":93.9,"s":5.9},{"t":94.5,"s":3.6},{"t":95.1,"s":3.2},{"t":95.6,"s":4.2},{"t":96.2,"s":5.7},{"t":96.7,"s":8.6},{"t":97.3,"s":3.0},{"t":98.0,"s":2.4},{"t":98.6,"s":0.7},{"t":99.1,"s":2.2},{"t":99.7,"s":0.5},{"t":100.2,"s":2.0},{"t":100.8,"s":0.1},{"t":101.3,"s":1.8},{"t":102.1,"s":5.5},{"t":102.6,"s":6.1},{"t":103.2,"s":5.5},{"t":103.9,"s":5.1},{"t":104.5,"s":4.5},{"t":105.0,"s":6.1},{"t":105.6,"s":7.8},{"t":106.1,"s":7.0},{"t":106.5,"s":7.6},{"t":107.0,"s":5.2},{"t":107.6,"s":2.6},{"t":108.2,"s":5.5},{"t":108.5,"s":3.2},{"t":109.1,"s":6.1},{"t":109.6,"s":4.7},{"t":110.0,"s":7.0},{"t":110.4,"s":5.1},{"t":110.9,"s":6.5},{"t":111.4,"s":6.1},{"t":112.0,"s":5.5},{"t":112.5,"s":4.4},{"t":112.9,"s":6.3},{"t":113.5,"s":7.0},{"t":114.0,"s":8.4},{"t":114.6,"s":7.6},{"t":114.9,"s":8.2},{"t":115.5,"s":6.1},{"t":115.9,"s":1.1},{"t":116.4,"s":2.8},{"t":117.0,"s":5.1},{"t":117.3,"s":6.3},{"t":117.9,"s":4.0},{"t":118.4,"s":0.1},{"t":118.8,"s":3.2},{"t":119.4,"s":3.8},{"t":119.9,"s":5.7},{"t":120.4,"s":5.1},{"t":121.0,"s":4.0},{"t":121.5,"s":6.1},{"t":121.9,"s":5.7}],
"d19":[{"t":0.1,"d":360},{"t":0.2,"d":241},{"t":0.3,"d":195},{"t":0.7,"d":253},{"t":1.0,"d":270},{"t":1.3,"d":351},{"t":1.6,"d":328},{"t":2.1,"d":305},{"t":2.5,"d":282},{"t":2.9,"d":264},{"t":3.1,"d":235},{"t":3.4,"d":160},{"t":3.5,"d":224},{"t":4.0,"d":241},{"t":4.5,"d":235},{"t":4.9,"d":200},{"t":5.3,"d":113},{"t":5.8,"d":131},{"t":6.2,"d":230},{"t":6.6,"d":218},{"t":7.1,"d":247},{"t":7.6,"d":247},{"t":8.0,"d":107},{"t":8.4,"d":90},{"t":9.2,"d":96},{"t":9.7,"d":84},{"t":9.9,"d":183},{"t":10.2,"d":73},{"t":10.3,"d":9},{"t":10.4,"d":345},{"t":11.0,"d":241},{"t":11.4,"d":241},{"t":11.7,"d":299},{"t":12.1,"d":328},{"t":12.5,"d":316},{"t":12.8,"d":357},{"t":13.2,"d":351},{"t":13.4,"d":282},{"t":13.9,"d":9},{"t":14.3,"d":38},{"t":14.7,"d":44},{"t":15.1,"d":15},{"t":15.4,"d":49},{"t":15.8,"d":67},{"t":16.2,"d":90},{"t":16.5,"d":107},{"t":16.9,"d":113},{"t":17.5,"d":113},{"t":18.0,"d":125},{"t":18.4,"d":142},{"t":18.9,"d":125},{"t":19.3,"d":136},{"t":19.7,"d":148},{"t":20.0,"d":125},{"t":20.6,"d":96},{"t":21.1,"d":87},{"t":21.7,"d":44},{"t":21.9,"d":64},{"t":22.4,"d":73},{"t":23.0,"d":96},{"t":23.4,"d":107},{"t":23.7,"d":154},{"t":24.1,"d":212},{"t":24.6,"d":253},{"t":25.0,"d":212},{"t":25.4,"d":200},{"t":25.9,"d":247},{"t":26.5,"d":218},{"t":26.9,"d":171},{"t":27.2,"d":142},{"t":27.6,"d":67},{"t":27.8,"d":38},{"t":27.9,"d":351},{"t":28.2,"d":316},{"t":28.5,"d":270},{"t":29.1,"d":282},{"t":29.6,"d":241},{"t":30.2,"d":212},{"t":30.6,"d":235},{"t":30.9,"d":253},{"t":31.3,"d":235},{"t":31.7,"d":240},{"t":32.4,"d":270},{"t":32.9,"d":293},{"t":33.3,"d":142},{"t":33.8,"d":183},{"t":34.4,"d":241},{"t":34.8,"d":224},{"t":35.1,"d":200},{"t":35.3,"d":113},{"t":35.7,"d":142},{"t":36.2,"d":125},{"t":36.8,"d":142},{"t":37.3,"d":154},{"t":37.9,"d":165},{"t":38.4,"d":177},{"t":39.0,"d":235},{"t":39.4,"d":253},{"t":39.9,"d":241},{"t":40.5,"d":258},{"t":41.0,"d":235},{"t":41.3,"d":206},{"t":41.5,"d":84},{"t":41.9,"d":55},{"t":42.7,"d":84},{"t":43.4,"d":107},{"t":43.8,"d":154},{"t":44.2,"d":253},{"t":44.7,"d":264},{"t":45.5,"d":264},{"t":46.4,"d":258},{"t":46.9,"d":264},{"t":47.5,"d":253},{"t":48.2,"d":253},{"t":49.0,"d":247},{"t":49.5,"d":229},{"t":49.9,"d":212},{"t":50.3,"d":113},{"t":50.8,"d":154},{"t":51.4,"d":247},{"t":51.9,"d":253},{"t":52.7,"d":253},{"t":53.4,"d":264},{"t":54.0,"d":282},{"t":54.5,"d":287},{"t":54.9,"d":311},{"t":55.2,"d":287},{"t":55.6,"d":276},{"t":55.9,"d":55},{"t":56.3,"d":154},{"t":56.7,"d":125},{"t":57.0,"d":26},{"t":57.1,"d":357},{"t":57.4,"d":345},{"t":57.9,"d":340},{"t":58.7,"d":322},{"t":59.2,"d":270},{"t":59.8,"d":287},{"t":60.4,"d":264},{"t":60.8,"d":194},{"t":61.1,"d":241},{"t":61.7,"d":253},{"t":62.2,"d":258},{"t":63.0,"d":322},{"t":63.5,"d":305},{"t":64.1,"d":299},{"t":64.5,"d":241},{"t":64.8,"d":177},{"t":65.2,"d":165},{"t":65.5,"d":38},{"t":65.8,"d":3},{"t":66.1,"d":357},{"t":66.6,"d":293},{"t":67.0,"d":270},{"t":67.2,"d":351},{"t":67.4,"d":32},{"t":67.9,"d":49},{"t":68.5,"d":38},{"t":69.3,"d":29},{"t":70.0,"d":23},{"t":70.5,"d":345},{"t":70.7,"d":61},{"t":71.3,"d":90},{"t":71.8,"d":328},{"t":72.2,"d":293},{"t":72.9,"d":264},{"t":73.5,"d":305},{"t":73.7,"d":49},{"t":74.4,"d":38},{"t":74.6,"d":357},{"t":75.0,"d":224},{"t":75.5,"d":171},{"t":75.9,"d":142},{"t":76.4,"d":107},{"t":76.8,"d":67},{"t":77.3,"d":61},{"t":77.9,"d":3},{"t":78.1,"d":357},{"t":78.6,"d":340},{"t":79.2,"d":328},{"t":79.9,"d":328},{"t":80.3,"d":311},{"t":80.7,"d":270},{"t":81.0,"d":247},{"t":81.8,"d":154},{"t":82.0,"d":119},{"t":82.4,"d":3},{"t":82.5,"d":351},{"t":82.9,"d":340},{"t":83.3,"d":328},{"t":84.0,"d":305},{"t":84.5,"d":282},{"t":84.9,"d":357},{"t":85.1,"d":26},{"t":85.3,"d":67},{"t":85.8,"d":73},{"t":86.6,"d":67},{"t":87.3,"d":64},{"t":87.9,"d":49},{"t":88.1,"d":334},{"t":88.2,"d":299},{"t":88.6,"d":102},{"t":89.2,"d":73},{"t":89.5,"d":61},{"t":90.1,"d":26},{"t":90.6,"d":9},{"t":91.0,"d":3},{"t":91.4,"d":26},{"t":91.9,"d":67},{"t":92.3,"d":177},{"t":92.5,"d":38},{"t":93.0,"d":351},{"t":93.4,"d":328},{"t":93.6,"d":9},{"t":93.9,"d":20},{"t":94.7,"d":20},{"t":95.1,"d":3},{"t":95.2,"d":328},{"t":95.8,"d":328},{"t":96.3,"d":311},{"t":96.9,"d":282},{"t":97.2,"d":253},{"t":97.6,"d":212},{"t":98.0,"d":154},{"t":98.4,"d":107},{"t":98.6,"d":90},{"t":98.8,"d":224},{"t":99.1,"d":224},{"t":99.3,"d":171},{"t":99.5,"d":270},{"t":99.9,"d":311},{"t":100.2,"d":345},{"t":100.6,"d":360},{"t":100.9,"d":189},{"t":101.3,"d":177},{"t":101.9,"d":165},{"t":102.4,"d":194},{"t":102.8,"d":212},{"t":103.3,"d":212},{"t":103.9,"d":218},{"t":104.4,"d":224},{"t":104.8,"d":235},{"t":105.4,"d":241},{"t":105.7,"d":247},{"t":106.3,"d":261},{"t":106.6,"d":253},{"t":107.0,"d":224},{"t":107.6,"d":165},{"t":107.9,"d":177},{"t":108.3,"d":154},{"t":108.8,"d":165},{"t":109.2,"d":142},{"t":109.6,"d":131},{"t":109.9,"d":154},{"t":110.3,"d":183},{"t":110.5,"d":247},{"t":110.9,"d":224},{"t":111.4,"d":235},{"t":112.0,"d":212},{"t":112.5,"d":235},{"t":112.9,"d":264},{"t":113.5,"d":253},{"t":114.0,"d":218},{"t":114.6,"d":241},{"t":115.1,"d":276},{"t":115.7,"d":282},{"t":116.0,"d":235},{"t":116.4,"d":229},{"t":116.7,"d":218},{"t":117.1,"d":241},{"t":117.5,"d":270},{"t":117.9,"d":299},{"t":118.2,"d":348},{"t":118.4,"d":3},{"t":118.6,"d":61},{"t":119.0,"d":165},{"t":119.4,"d":171},{"t":119.9,"d":154},{"t":120.3,"d":171},{"t":120.7,"d":148},{"t":121.0,"d":165},{"t":121.2,"d":212},{"t":121.5,"d":253},{"t":121.8,"d":270},{"t":122.0,"d":264}],
"q19":[{"t":0.0,"q":132},{"t":0.85,"q":42},{"t":1.8,"q":-42},{"t":2.9,"q":81},{"t":3.9,"q":103},{"t":4.9,"q":116},{"t":6.0,"q":90},{"t":7.9,"q":145},{"t":9.0,"q":68},{"t":9.9,"q":68},{"t":10.8,"q":129},{"t":11.9,"q":52},{"t":12.8,"q":132},{"t":13.6,"q":142},{"t":15.1,"q":148},{"t":16.2,"q":158},{"t":17.3,"q":168},{"t":18.0,"q":171},{"t":18.9,"q":190},{"t":19.9,"q":181},{"t":21.0,"q":171},{"t":21.7,"q":119},{"t":22.8,"q":52},{"t":23.9,"q":136},{"t":25.0,"q":68},{"t":25.8,"q":103},{"t":26.9,"q":129},{"t":28.0,"q":123},{"t":28.7,"q":145},{"t":29.8,"q":123},{"t":30.9,"q":152},{"t":31.8,"q":116},{"t":32.8,"q":177},{"t":35.5,"q":235},{"t":37.9,"q":197},{"t":41.9,"q":106},{"t":43.8,"q":110},{"t":44.9,"q":152},{"t":46.0,"q":181},{"t":47.0,"q":158},{"t":48.2,"q":184},{"t":50.1,"q":184},{"t":51.0,"q":187},{"t":52.1,"q":139},{"t":53.2,"q":129},{"t":54.3,"q":132},{"t":55.7,"q":81},{"t":57.0,"q":36},{"t":58.0,"q":74},{"t":58.9,"q":65},{"t":60.9,"q":152},{"t":61.9,"q":119},{"t":63.0,"q":-29},{"t":64.1,"q":36},{"t":65.0,"q":16},{"t":66.3,"q":48},{"t":67.9,"q":106},{"t":68.8,"q":-35},{"t":69.8,"q":52},{"t":70.9,"q":-23},{"t":72.2,"q":58},{"t":72.9,"q":94},{"t":73.7,"q":61},{"t":74.8,"q":94},{"t":75.9,"q":36},{"t":76.8,"q":126},{"t":78.8,"q":119},{"t":79.9,"q":119},{"t":80.9,"q":126},{"t":81.8,"q":65},{"t":83.1,"q":113},{"t":84.2,"q":123},{"t":85.8,"q":110},{"t":86.9,"q":145},{"t":88.1,"q":87},{"t":89.2,"q":-23},{"t":89.9,"q":-190},{"t":91.9,"q":23},{"t":93.0,"q":-29},{"t":93.9,"q":-39},{"t":95.1,"q":-26},{"t":96.2,"q":16},{"t":96.7,"q":68},{"t":97.8,"q":58},{"t":98.7,"q":71},{"t":99.8,"q":52},{"t":100.9,"q":97},{"t":101.8,"q":23},{"t":103.2,"q":58},{"t":104.8,"q":-13},{"t":106.1,"q":-23},{"t":107.8,"q":58},{"t":109.8,"q":23},{"t":110.9,"q":58},{"t":112.0,"q":10},{"t":113.5,"q":16},{"t":114.9,"q":71},{"t":116.0,"q":58},{"t":116.8,"q":42},{"t":117.9,"q":81},{"t":119.0,"q":74},{"t":119.7,"q":71},{"t":120.9,"q":36}]
},
"spacing":20,
"vconcat":[
{"spacing":6,"vconcat":[
{"title":{"text":"(a)","anchor":"end","fontSize":20,"fontWeight":"bold","offset":-5,"dx":-7},
 "spacing":69,"bounds":"flush",
 "hconcat":[
  {"width":224,"height":240,"title":{"text":"2018/05","orient":"bottom","fontSize":21,"fontWeight":"bold","offset":8},"layer":[
   {"data":{"name":"rings"},"mark":{"type":"arc","filled":false,"stroke":"#d2d2d2","strokeWidth":1,"theta":0,"theta2":6.2832},"encoding":{"radius":{"field":"r","type":"quantitative","stack":null,"scale":{"type":"linear","domain":[0,10],"range":[0,103],"zero":true,"nice":false}}}},
   {"data":{"name":"spokes"},"mark":{"type":"arc","filled":false,"stroke":"#d2d2d2","strokeWidth":1},"encoding":{"theta":{"field":"a","type":"quantitative","stack":null,"scale":{"domain":[0,360],"range":[0,6.2832]}},"theta2":{"field":"a"},"radius":{"field":"r","type":"quantitative","stack":null}}},
   {"data":{"name":"rose"},"transform":[{"filter":"datum.m=='1805'"},{"fold":["c1","c2","c3","c4","c5"],"as":["cls","f"]},{"filter":"datum.f>0"},{"bin":{"step":10,"extent":[0,360],"nice":false},"field":"a","as":["a0","a1"]},{"stack":"f","groupby":["a"],"sort":[{"field":"cls"}],"as":["r0","r1"]}],"mark":{"type":"arc","stroke":"#333333","strokeWidth":0.5},"encoding":{"theta":{"field":"a0","type":"quantitative","stack":null},"theta2":{"field":"a1"},"radius":{"field":"r1","type":"quantitative","stack":null},"radius2":{"field":"r0"},"color":{"field":"cls","type":"nominal","legend":null,"scale":{"domain":["c1","c2","c3","c4","c5"],"range":["#0c1660","#1f6fd6","#4fe04f","#ffe14f","#7d0000"]}}}},
   {"data":{"name":"compass"},"mark":{"type":"text","fontSize":14,"color":"#333333"},"encoding":{"theta":{"field":"a","type":"quantitative","stack":null},"radius":{"field":"r","type":"quantitative","stack":null},"text":{"field":"t"}}}]},
  {"width":224,"height":240,"title":{"text":"2018/06","orient":"bottom","fontSize":21,"fontWeight":"bold","offset":8},"layer":[
   {"data":{"name":"rings"},"mark":{"type":"arc","filled":false,"stroke":"#d2d2d2","strokeWidth":1,"theta":0,"theta2":6.2832},"encoding":{"radius":{"field":"r","type":"quantitative","stack":null,"scale":{"type":"linear","domain":[0,10],"range":[0,103],"zero":true,"nice":false}}}},
   {"data":{"name":"spokes"},"mark":{"type":"arc","filled":false,"stroke":"#d2d2d2","strokeWidth":1},"encoding":{"theta":{"field":"a","type":"quantitative","stack":null,"scale":{"domain":[0,360],"range":[0,6.2832]}},"theta2":{"field":"a"},"radius":{"field":"r","type":"quantitative","stack":null}}},
   {"data":{"name":"rose"},"transform":[{"filter":"datum.m=='1806'"},{"fold":["c1","c2","c3","c4","c5"],"as":["cls","f"]},{"filter":"datum.f>0"},{"bin":{"step":10,"extent":[0,360],"nice":false},"field":"a","as":["a0","a1"]},{"stack":"f","groupby":["a"],"sort":[{"field":"cls"}],"as":["r0","r1"]}],"mark":{"type":"arc","stroke":"#333333","strokeWidth":0.5},"encoding":{"theta":{"field":"a0","type":"quantitative","stack":null},"theta2":{"field":"a1"},"radius":{"field":"r1","type":"quantitative","stack":null},"radius2":{"field":"r0"},"color":{"field":"cls","type":"nominal","legend":null,"scale":{"domain":["c1","c2","c3","c4","c5"],"range":["#0c1660","#1f6fd6","#4fe04f","#ffe14f","#7d0000"]}}}},
   {"data":{"name":"compass"},"mark":{"type":"text","fontSize":14,"color":"#333333"},"encoding":{"theta":{"field":"a","type":"quantitative","stack":null},"radius":{"field":"r","type":"quantitative","stack":null},"text":{"field":"t"}}}]},
  {"width":224,"height":240,"title":{"text":"2018/07","orient":"bottom","fontSize":21,"fontWeight":"bold","offset":8},"layer":[
   {"data":{"name":"rings"},"mark":{"type":"arc","filled":false,"stroke":"#d2d2d2","strokeWidth":1,"theta":0,"theta2":6.2832},"encoding":{"radius":{"field":"r","type":"quantitative","stack":null,"scale":{"type":"linear","domain":[0,10],"range":[0,103],"zero":true,"nice":false}}}},
   {"data":{"name":"spokes"},"mark":{"type":"arc","filled":false,"stroke":"#d2d2d2","strokeWidth":1},"encoding":{"theta":{"field":"a","type":"quantitative","stack":null,"scale":{"domain":[0,360],"range":[0,6.2832]}},"theta2":{"field":"a"},"radius":{"field":"r","type":"quantitative","stack":null}}},
   {"data":{"name":"rose"},"transform":[{"filter":"datum.m=='1807'"},{"fold":["c1","c2","c3","c4","c5"],"as":["cls","f"]},{"filter":"datum.f>0"},{"bin":{"step":10,"extent":[0,360],"nice":false},"field":"a","as":["a0","a1"]},{"stack":"f","groupby":["a"],"sort":[{"field":"cls"}],"as":["r0","r1"]}],"mark":{"type":"arc","stroke":"#333333","strokeWidth":0.5},"encoding":{"theta":{"field":"a0","type":"quantitative","stack":null},"theta2":{"field":"a1"},"radius":{"field":"r1","type":"quantitative","stack":null},"radius2":{"field":"r0"},"color":{"field":"cls","type":"nominal","legend":null,"scale":{"domain":["c1","c2","c3","c4","c5"],"range":["#0c1660","#1f6fd6","#4fe04f","#ffe14f","#7d0000"]}}}},
   {"data":{"name":"compass"},"mark":{"type":"text","fontSize":14,"color":"#333333"},"encoding":{"theta":{"field":"a","type":"quantitative","stack":null},"radius":{"field":"r","type":"quantitative","stack":null},"text":{"field":"t"}}}]},
  {"width":224,"height":240,"title":{"text":"2018/08","orient":"bottom","fontSize":21,"fontWeight":"bold","offset":8},"layer":[
   {"data":{"name":"rings"},"mark":{"type":"arc","filled":false,"stroke":"#d2d2d2","strokeWidth":1,"theta":0,"theta2":6.2832},"encoding":{"radius":{"field":"r","type":"quantitative","stack":null,"scale":{"type":"linear","domain":[0,10],"range":[0,103],"zero":true,"nice":false}}}},
   {"data":{"name":"spokes"},"mark":{"type":"arc","filled":false,"stroke":"#d2d2d2","strokeWidth":1},"encoding":{"theta":{"field":"a","type":"quantitative","stack":null,"scale":{"domain":[0,360],"range":[0,6.2832]}},"theta2":{"field":"a"},"radius":{"field":"r","type":"quantitative","stack":null}}},
   {"data":{"name":"rose"},"transform":[{"filter":"datum.m=='1808'"},{"fold":["c1","c2","c3","c4","c5"],"as":["cls","f"]},{"filter":"datum.f>0"},{"bin":{"step":10,"extent":[0,360],"nice":false},"field":"a","as":["a0","a1"]},{"stack":"f","groupby":["a"],"sort":[{"field":"cls"}],"as":["r0","r1"]}],"mark":{"type":"arc","stroke":"#333333","strokeWidth":0.5},"encoding":{"theta":{"field":"a0","type":"quantitative","stack":null},"theta2":{"field":"a1"},"radius":{"field":"r1","type":"quantitative","stack":null},"radius2":{"field":"r0"},"color":{"field":"cls","type":"nominal","legend":null,"scale":{"domain":["c1","c2","c3","c4","c5"],"range":["#0c1660","#1f6fd6","#4fe04f","#ffe14f","#7d0000"]}}}},
   {"data":{"name":"compass"},"mark":{"type":"text","fontSize":14,"color":"#333333"},"encoding":{"theta":{"field":"a","type":"quantitative","stack":null},"radius":{"field":"r","type":"quantitative","stack":null},"text":{"field":"t"}}}]}
 ]},
{"width":1103,"height":207,
 "title":{"text":"(b)","anchor":"end","frame":"group","fontSize":20,"fontWeight":"bold","offset":-11},
 "layer":[
  {"data":{"name":"g18"},"mark":{"type":"rect","color":"#bdbdbd","opacity":0.45},"encoding":{"x":{"field":"x0","type":"quantitative","scale":{"domain":[0,122],"nice":false,"zero":false},"axis":{"title":null,"values":[0,4,9,14,19,24,31,35,40,45,50,55,61,65,70,75,80,85,92,96,101,106,111,116],"labelExpr":"indexof([0,9,19,31,40,50,61,70,80,92,101,111], datum.value) >= 0 ? timeFormat(datetime(2018,4,1+datum.value),'%Y/%m/%d') : ''","labelAngle":-30,"labelAlign":"right","labelBaseline":"top","labelOverlap":false,"labelBound":false,"labelPadding":2,"grid":true,"gridColor":"#cfcfcf","tickSize":11,"labelFontSize":17}},"x2":{"field":"x1"}}},
  {"data":{"name":"d18"},"mark":{"type":"circle","size":16,"color":"#5555ee","opacity":1},"encoding":{"x":{"field":"t","type":"quantitative"},"y":{"field":"d","type":"quantitative","scale":{"domain":[0,360],"nice":false},"axis":{"orient":"right","values":[0,30,60,90,120,150,180,210,240,270,300,330,360],"labelExpr":"datum.value % 60 == 0 ? datum.label : ''","grid":false,"tickSize":7,"domainColor":"#5555ee","tickColor":"#5555ee","labelColor":"#5555ee","titleColor":"#5555ee","title":"wind direction, °","titleAngle":270,"titleBaseline":"top","titlePadding":8}}}},
  {"data":{"name":"s18"},"mark":{"type":"line","color":"#000000","strokeWidth":1.5},"encoding":{"x":{"field":"t","type":"quantitative"},"y":{"field":"s","type":"quantitative","scale":{"domain":[0,12],"nice":false},"axis":{"orient":"left","values":[0,1,2,3,4,5,6,7,8,9,10,11,12],"labelExpr":"datum.value % 2 == 0 ? datum.label : ''","grid":true,"gridColor":"#d6d6d6","tickSize":7,"title":"wind speed, m s⁻¹","titlePadding":10}}}},
  {"layer":[
   {"data":{"name":"q18"},"mark":{"type":"line","color":"#f03c3c","strokeWidth":0.9,"clip":true},"encoding":{"x":{"field":"t","type":"quantitative"},"y":{"field":"q","type":"quantitative","scale":{"domain":[-200,200],"nice":false},"axis":{"orient":"left","offset":64,"values":[-200,-150,-100,-50,0,50,100,150,200],"labelExpr":"datum.value % 100 == 0 ? '' + datum.value : ''","grid":false,"tickSize":11,"domainColor":"#e84c4c","tickColor":"#e84c4c","labelColor":"#e84c4c","titleColor":"#e84c4c","title":"Q, W m⁻²","titlePadding":6}}}},
   {"data":{"name":"m18"},"mark":{"type":"rule","color":"#e84545","strokeWidth":2.6,"strokeDash":[12,7]},"encoding":{"x":{"field":"x0","type":"quantitative"},"x2":{"field":"x1"},"y":{"field":"q","type":"quantitative"}}}]}
 ],
 "resolve":{"scale":{"y":"independent"}}}
]},
{"spacing":4,"vconcat":[
{"title":{"text":"(c)","anchor":"end","fontSize":20,"fontWeight":"bold","offset":-5,"dx":-7},
 "spacing":69,"bounds":"flush",
 "hconcat":[
  {"width":224,"height":240,"title":{"text":"2019/05","orient":"bottom","fontSize":21,"fontWeight":"bold","offset":8},"layer":[
   {"data":{"name":"rings"},"mark":{"type":"arc","filled":false,"stroke":"#d2d2d2","strokeWidth":1,"theta":0,"theta2":6.2832},"encoding":{"radius":{"field":"r","type":"quantitative","stack":null,"scale":{"type":"linear","domain":[0,10],"range":[0,103],"zero":true,"nice":false}}}},
   {"data":{"name":"spokes"},"mark":{"type":"arc","filled":false,"stroke":"#d2d2d2","strokeWidth":1},"encoding":{"theta":{"field":"a","type":"quantitative","stack":null,"scale":{"domain":[0,360],"range":[0,6.2832]}},"theta2":{"field":"a"},"radius":{"field":"r","type":"quantitative","stack":null}}},
   {"data":{"name":"rose"},"transform":[{"filter":"datum.m=='1905'"},{"fold":["c1","c2","c3","c4","c5"],"as":["cls","f"]},{"filter":"datum.f>0"},{"bin":{"step":10,"extent":[0,360],"nice":false},"field":"a","as":["a0","a1"]},{"stack":"f","groupby":["a"],"sort":[{"field":"cls"}],"as":["r0","r1"]}],"mark":{"type":"arc","stroke":"#333333","strokeWidth":0.5},"encoding":{"theta":{"field":"a0","type":"quantitative","stack":null},"theta2":{"field":"a1"},"radius":{"field":"r1","type":"quantitative","stack":null},"radius2":{"field":"r0"},"color":{"field":"cls","type":"nominal","legend":null,"scale":{"domain":["c1","c2","c3","c4","c5"],"range":["#0c1660","#1f6fd6","#4fe04f","#ffe14f","#7d0000"]}}}},
   {"data":{"name":"compass"},"mark":{"type":"text","fontSize":14,"color":"#333333"},"encoding":{"theta":{"field":"a","type":"quantitative","stack":null},"radius":{"field":"r","type":"quantitative","stack":null},"text":{"field":"t"}}}]},
  {"width":224,"height":240,"title":{"text":"2019/06","orient":"bottom","fontSize":21,"fontWeight":"bold","offset":8},"layer":[
   {"data":{"name":"rings"},"mark":{"type":"arc","filled":false,"stroke":"#d2d2d2","strokeWidth":1,"theta":0,"theta2":6.2832},"encoding":{"radius":{"field":"r","type":"quantitative","stack":null,"scale":{"type":"linear","domain":[0,10],"range":[0,103],"zero":true,"nice":false}}}},
   {"data":{"name":"spokes"},"mark":{"type":"arc","filled":false,"stroke":"#d2d2d2","strokeWidth":1},"encoding":{"theta":{"field":"a","type":"quantitative","stack":null,"scale":{"domain":[0,360],"range":[0,6.2832]}},"theta2":{"field":"a"},"radius":{"field":"r","type":"quantitative","stack":null}}},
   {"data":{"name":"rose"},"transform":[{"filter":"datum.m=='1906'"},{"fold":["c1","c2","c3","c4","c5"],"as":["cls","f"]},{"filter":"datum.f>0"},{"bin":{"step":10,"extent":[0,360],"nice":false},"field":"a","as":["a0","a1"]},{"stack":"f","groupby":["a"],"sort":[{"field":"cls"}],"as":["r0","r1"]}],"mark":{"type":"arc","stroke":"#333333","strokeWidth":0.5},"encoding":{"theta":{"field":"a0","type":"quantitative","stack":null},"theta2":{"field":"a1"},"radius":{"field":"r1","type":"quantitative","stack":null},"radius2":{"field":"r0"},"color":{"field":"cls","type":"nominal","legend":null,"scale":{"domain":["c1","c2","c3","c4","c5"],"range":["#0c1660","#1f6fd6","#4fe04f","#ffe14f","#7d0000"]}}}},
   {"data":{"name":"compass"},"mark":{"type":"text","fontSize":14,"color":"#333333"},"encoding":{"theta":{"field":"a","type":"quantitative","stack":null},"radius":{"field":"r","type":"quantitative","stack":null},"text":{"field":"t"}}}]},
  {"width":224,"height":240,"title":{"text":"2019/07","orient":"bottom","fontSize":21,"fontWeight":"bold","offset":8},"layer":[
   {"data":{"name":"rings"},"mark":{"type":"arc","filled":false,"stroke":"#d2d2d2","strokeWidth":1,"theta":0,"theta2":6.2832},"encoding":{"radius":{"field":"r","type":"quantitative","stack":null,"scale":{"type":"linear","domain":[0,10],"range":[0,103],"zero":true,"nice":false}}}},
   {"data":{"name":"spokes"},"mark":{"type":"arc","filled":false,"stroke":"#d2d2d2","strokeWidth":1},"encoding":{"theta":{"field":"a","type":"quantitative","stack":null,"scale":{"domain":[0,360],"range":[0,6.2832]}},"theta2":{"field":"a"},"radius":{"field":"r","type":"quantitative","stack":null}}},
   {"data":{"name":"rose"},"transform":[{"filter":"datum.m=='1907'"},{"fold":["c1","c2","c3","c4","c5"],"as":["cls","f"]},{"filter":"datum.f>0"},{"bin":{"step":10,"extent":[0,360],"nice":false},"field":"a","as":["a0","a1"]},{"stack":"f","groupby":["a"],"sort":[{"field":"cls"}],"as":["r0","r1"]}],"mark":{"type":"arc","stroke":"#333333","strokeWidth":0.5},"encoding":{"theta":{"field":"a0","type":"quantitative","stack":null},"theta2":{"field":"a1"},"radius":{"field":"r1","type":"quantitative","stack":null},"radius2":{"field":"r0"},"color":{"field":"cls","type":"nominal","legend":null,"scale":{"domain":["c1","c2","c3","c4","c5"],"range":["#0c1660","#1f6fd6","#4fe04f","#ffe14f","#7d0000"]}}}},
   {"data":{"name":"compass"},"mark":{"type":"text","fontSize":14,"color":"#333333"},"encoding":{"theta":{"field":"a","type":"quantitative","stack":null},"radius":{"field":"r","type":"quantitative","stack":null},"text":{"field":"t"}}}]},
  {"width":224,"height":240,"title":{"text":"2019/08","orient":"bottom","fontSize":21,"fontWeight":"bold","offset":8},"layer":[
   {"data":{"name":"rings"},"mark":{"type":"arc","filled":false,"stroke":"#d2d2d2","strokeWidth":1,"theta":0,"theta2":6.2832},"encoding":{"radius":{"field":"r","type":"quantitative","stack":null,"scale":{"type":"linear","domain":[0,10],"range":[0,103],"zero":true,"nice":false}}}},
   {"data":{"name":"spokes"},"mark":{"type":"arc","filled":false,"stroke":"#d2d2d2","strokeWidth":1},"encoding":{"theta":{"field":"a","type":"quantitative","stack":null,"scale":{"domain":[0,360],"range":[0,6.2832]}},"theta2":{"field":"a"},"radius":{"field":"r","type":"quantitative","stack":null}}},
   {"data":{"name":"rose"},"transform":[{"filter":"datum.m=='1908'"},{"fold":["c1","c2","c3","c4","c5"],"as":["cls","f"]},{"filter":"datum.f>0"},{"bin":{"step":10,"extent":[0,360],"nice":false},"field":"a","as":["a0","a1"]},{"stack":"f","groupby":["a"],"sort":[{"field":"cls"}],"as":["r0","r1"]}],"mark":{"type":"arc","stroke":"#333333","strokeWidth":0.5},"encoding":{"theta":{"field":"a0","type":"quantitative","stack":null},"theta2":{"field":"a1"},"radius":{"field":"r1","type":"quantitative","stack":null},"radius2":{"field":"r0"},"color":{"field":"cls","type":"nominal","legend":null,"scale":{"domain":["c1","c2","c3","c4","c5"],"range":["#0c1660","#1f6fd6","#4fe04f","#ffe14f","#7d0000"]}}}},
   {"data":{"name":"compass"},"mark":{"type":"text","fontSize":14,"color":"#333333"},"encoding":{"theta":{"field":"a","type":"quantitative","stack":null},"radius":{"field":"r","type":"quantitative","stack":null},"text":{"field":"t"}}}]}
 ]},
{"width":1103,"height":207,
 "title":{"text":"(d)","anchor":"end","frame":"group","fontSize":20,"fontWeight":"bold","offset":-9},
 "layer":[
  {"data":{"name":"g19"},"mark":{"type":"rect","color":"#bdbdbd","opacity":0.45},"encoding":{"x":{"field":"x0","type":"quantitative","scale":{"domain":[0,122],"nice":false,"zero":false},"axis":{"title":null,"values":[0,4,9,14,19,24,31,35,40,45,50,55,61,65,70,75,80,85,92,96,101,106,111,116],"labelExpr":"indexof([0,9,19,31,40,50,61,70,80,92,101,111], datum.value) >= 0 ? timeFormat(datetime(2019,4,1+datum.value),'%Y/%m/%d') : ''","labelAngle":-30,"labelAlign":"right","labelBaseline":"top","labelOverlap":false,"labelBound":false,"labelPadding":2,"grid":true,"gridColor":"#cfcfcf","tickSize":11,"labelFontSize":17}},"x2":{"field":"x1"}}},
  {"data":{"name":"d19"},"mark":{"type":"circle","size":16,"color":"#5555ee","opacity":1},"encoding":{"x":{"field":"t","type":"quantitative"},"y":{"field":"d","type":"quantitative","scale":{"domain":[0,360],"nice":false},"axis":{"orient":"right","values":[0,30,60,90,120,150,180,210,240,270,300,330,360],"labelExpr":"datum.value % 60 == 0 ? datum.label : ''","grid":false,"tickSize":7,"domainColor":"#5555ee","tickColor":"#5555ee","labelColor":"#5555ee","titleColor":"#5555ee","title":"wind direction, °","titleAngle":270,"titleBaseline":"top","titlePadding":8}}}},
  {"data":{"name":"s19"},"mark":{"type":"line","color":"#000000","strokeWidth":1.5},"encoding":{"x":{"field":"t","type":"quantitative"},"y":{"field":"s","type":"quantitative","scale":{"domain":[0,12],"nice":false},"axis":{"orient":"left","values":[0,1,2,3,4,5,6,7,8,9,10,11,12],"labelExpr":"datum.value % 2 == 0 ? datum.label : ''","grid":true,"gridColor":"#d6d6d6","tickSize":7,"title":"wind speed, m s⁻¹","titlePadding":10}}}},
  {"layer":[
   {"data":{"name":"q19"},"mark":{"type":"line","color":"#f03c3c","strokeWidth":0.9,"clip":true},"encoding":{"x":{"field":"t","type":"quantitative"},"y":{"field":"q","type":"quantitative","scale":{"domain":[-200,200],"nice":false},"axis":{"orient":"left","offset":64,"values":[-200,-150,-100,-50,0,50,100,150,200],"labelExpr":"datum.value % 100 == 0 ? '' + datum.value : ''","grid":false,"tickSize":11,"domainColor":"#e84c4c","tickColor":"#e84c4c","labelColor":"#e84c4c","titleColor":"#e84c4c","title":"Q, W m⁻²","titlePadding":6}}}},
   {"data":{"name":"m19"},"mark":{"type":"rule","color":"#e84545","strokeWidth":2.6,"strokeDash":[12,7]},"encoding":{"x":{"field":"x0","type":"quantitative"},"x2":{"field":"x1"},"y":{"field":"q","type":"quantitative"}}}]}
 ],
 "resolve":{"scale":{"y":"independent"}}}
]}
]
}
